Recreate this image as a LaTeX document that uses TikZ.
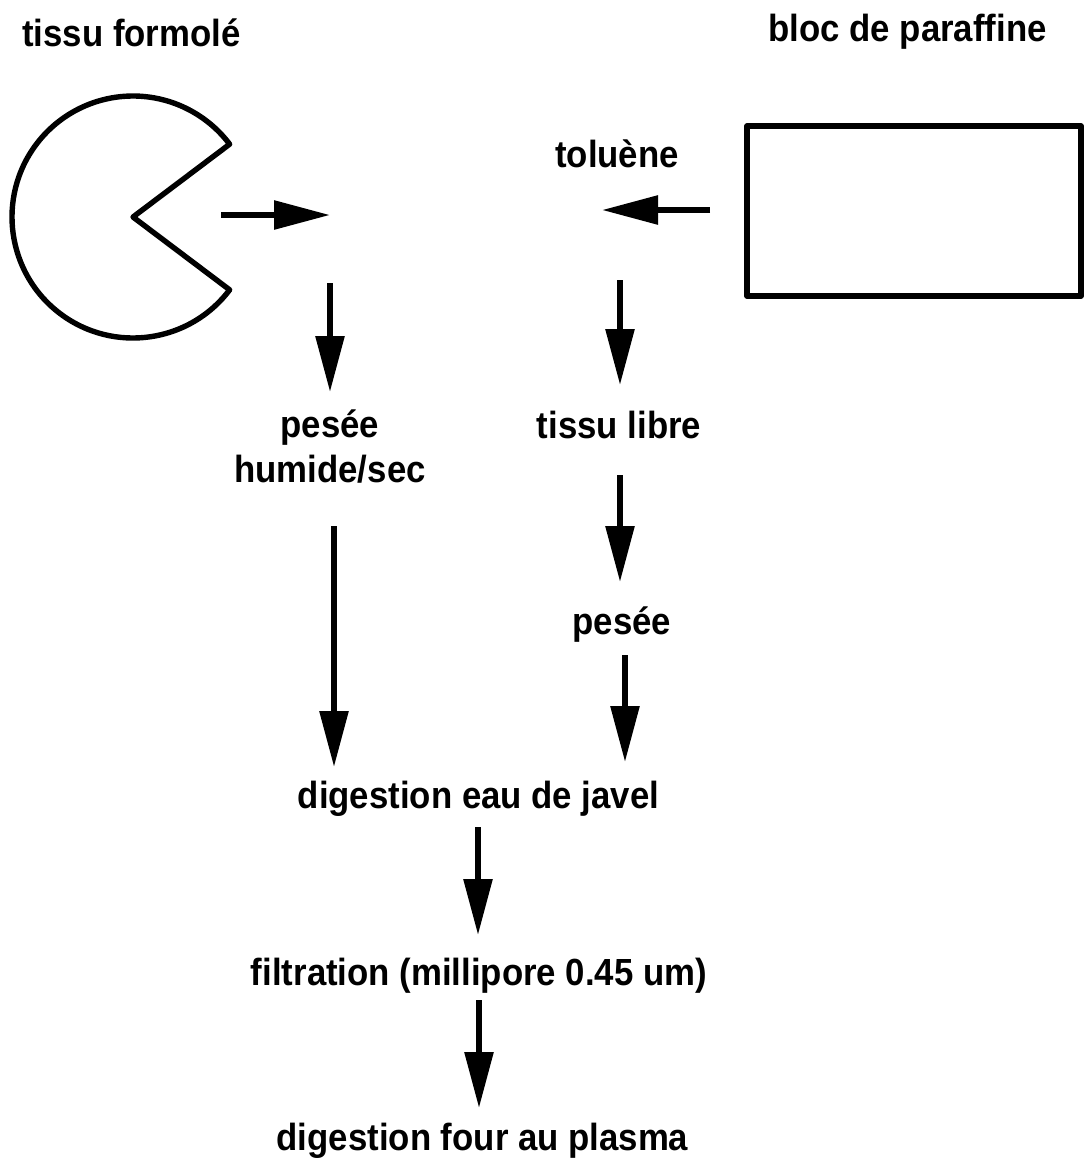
\documentclass[tikz,border=0pt]{standalone}
\usepackage{fontspec}
\setmainfont{Liberation Sans}[BoldFont={Liberation Sans Bold}, FakeStretch=0.92]
\usetikzlibrary{arrows.meta}
\begin{document}
\begin{tikzpicture}[x=0.5pt,y=-0.5pt,
  lbl/.style={font=\bfseries\fontsize{18.9}{22}\selectfont, inner sep=0pt, anchor=base},
  flow/.style={line width=2.9pt, -{Triangle[length=28pt,width=14pt]}},
  outline/.style={line width=2.7pt, line join=round}]
\useasboundingbox (0,0) rectangle (1083,1158);
% labels
\node[lbl] (tf) at (131.5,46) {tissu formolé};
\node[lbl, anchor=base west] (bp) at (768,41) {bloc de paraffine};
\node[lbl] (tol) at (617,167) {toluène};
\node[lbl] (pes1) at (330,437) {pesée};
\node[lbl] (hum) at (330,482) {humide/sec};
\node[lbl] (tl) at (619,438) {tissu libre};
\node[lbl] (pes2) at (622,634) {pesée};
\node[lbl] (dej) at (478.5,808) {digestion eau de javel};
\node[lbl] (fil) at (479,985) {filtration (millipore 0.45 um)};
\node[lbl] (dfp) at (482.5,1150) {digestion four au plasma};
% shapes
\coordinate (pc) at (133,217);
\draw[outline] (pc) -- ++(37:121) arc[start angle=37, end angle=323, radius=121] -- cycle;
\node[draw, outline, minimum width=167pt, minimum height=85pt, inner sep=0pt] (bloc) at (914,211) {};
% arrow end points
\coordinate (a1s) at (221,215); \coordinate (a1e) at (330,215);
\coordinate (a2s) at (710,210); \coordinate (a2e) at (602,210);
\coordinate (a3s) at (330,283); \coordinate (a3e) at (330,392);
\coordinate (a4s) at (620,280); \coordinate (a4e) at (620,385);
\coordinate (a5s) at (334,526); \coordinate (a5e) at (334,767);
\coordinate (a6s) at (620,475); \coordinate (a6e) at (620,582);
\coordinate (a7s) at (625,655); \coordinate (a7e) at (625,762);
\coordinate (a8s) at (478,827); \coordinate (a8e) at (478,935);
\coordinate (a9s) at (479,1000); \coordinate (a9e) at (479,1108);
\foreach \i in {1,...,9} \draw[flow] (a\i s) -- (a\i e);
\end{tikzpicture}
\end{document}
